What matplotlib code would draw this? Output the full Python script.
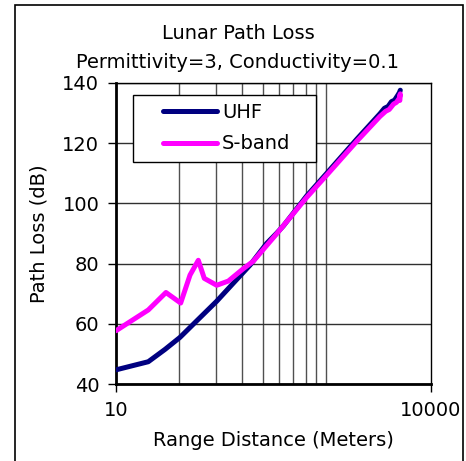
import matplotlib
matplotlib.use('Agg')
import matplotlib.pyplot as plt
from matplotlib.patches import Rectangle

# values
uhf_range = [10, 20.3, 29.3, 40.7, 60.8, 91, 131, 189, 272, 339, 392, 655, 1016,
             1959, 3266, 3600, 3900, 4200, 4500, 4800, 5000, 5100]
uhf_loss = [44.7, 47.4, 51.5, 55.5, 61.5, 67.5, 73.5, 79.5, 86.7, 90.1, 92.5, 102.5,
            110.0, 121.3, 129.8, 131.6, 132.2, 133.8, 134.3, 135.8, 136.8, 137.6]

sband_range = [10, 20.3, 29.9, 41.3, 50.7, 60.8, 69.3, 91, 117.5, 163, 203, 339, 655,
               1016, 1959, 3266, 3700, 4000, 4400, 4700, 5000, 5100, 5050]
sband_loss = [57.7, 64.6, 70.4, 66.9, 76.2, 81.1, 75.1, 72.8, 74.2, 78.3, 80.8, 89.9,
              102.0, 109.4, 120.6, 128.9, 130.6, 131.2, 133.0, 133.6, 135.0, 136.4, 134.2]

y_ticks = [40, 60, 80, 100, 120, 140]
x_ticks = [10, 10000]
x_tick_labels = ['10', '10000']
x_grid = [40, 90, 160, 250, 360, 490, 640, 810, 1000]

plt.rcParams['font.family'] = ['DejaVu Sans']
fs = 14

fig = plt.figure(figsize=(4.66, 4.61), dpi=100)
ax = fig.add_axes([116 / 466, 1 - 384 / 461, 315 / 466, 301 / 461])

ax.plot(uhf_range, uhf_loss, color='#000080', lw=3.6, solid_capstyle='round',
        solid_joinstyle='round', label='UHF', zorder=3)
ax.plot(sband_range, sband_loss, color='#ff00ff', lw=3.6, solid_capstyle='round',
        solid_joinstyle='round', label='S-band', zorder=4)

ax.set_xscale('log')
ax.set_xlim(10, 10000)
ax.set_ylim(40, 140)
ax.set_xticks(x_ticks)
ax.set_xticklabels(x_tick_labels)
ax.set_xticks(x_grid, minor=True)
ax.set_xticklabels([], minor=True)
ax.set_yticks(y_ticks)
ax.tick_params(axis='both', which='major', direction='out', length=6, width=1,
               labelsize=fs, pad=6)
ax.tick_params(axis='x', which='minor', length=0)
ax.grid(True, axis='x', which='minor', color='#505050', lw=1)
ax.grid(True, axis='y', which='major', color='#303030', lw=1)
ax.set_axisbelow(True)

for side in ['left', 'bottom']:
    ax.spines[side].set_linewidth(2)
for side in ['top', 'right']:
    ax.spines[side].set_linewidth(1)

ax.set_xlabel('Range Distance (Meters)', fontsize=fs, labelpad=8)
ax.set_ylabel('Path Loss (dB)', fontsize=fs, labelpad=10)

fig.text(238 / 466, 1 - 33 / 461, 'Lunar Path Loss', fontsize=fs,
         ha='center', va='center')
fig.text(238 / 466, 1 - 62 / 461, 'Permittivity=3, Conductivity=0.1', fontsize=fs,
         ha='center', va='center')

# legend box drawn separately so it can be wider than its content
ax.add_patch(Rectangle((0.054, 0.7365), 0.581, 0.2236, transform=ax.transAxes,
                       facecolor='white', edgecolor='black', lw=1, zorder=5))
leg = ax.legend(loc='upper left', bbox_to_anchor=(0.148, 0.9345), borderaxespad=0,
                fontsize=fs, frameon=False, handlelength=2.8, handletextpad=0.25,
                labelspacing=0.65, borderpad=0)
leg.set_zorder(6)

fig.patches.append(Rectangle((15 / 466, -0.02), 448 / 466, 1.02 - 5 / 461,
                             transform=fig.transFigure, fill=False,
                             edgecolor='black', lw=1.2))

fig.savefig('out.png', dpi=100)
